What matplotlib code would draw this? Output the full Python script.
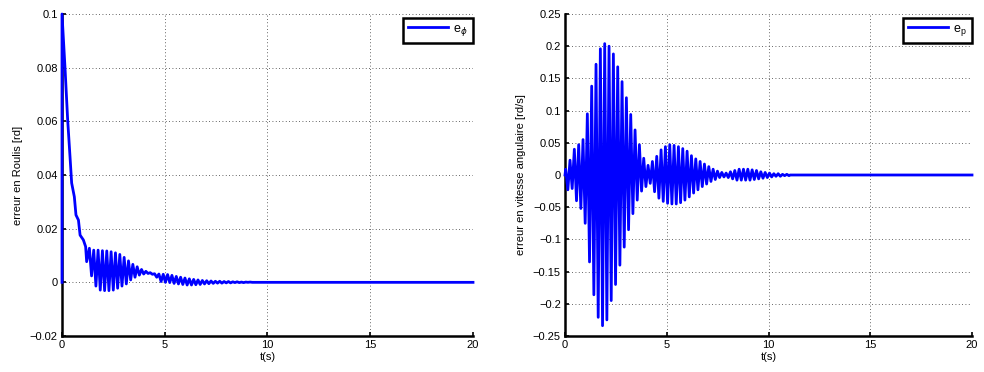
import matplotlib
matplotlib.use("Agg")
import matplotlib.pyplot as plt
from matplotlib.ticker import FuncFormatter

plt.rcParams['font.family'] = ['Liberation Sans', 'DejaVu Sans']
plt.rcParams['font.size'] = 8

# --- roll error: initial decay (t, value)
roll_decay_t = [0.0, 0.0, 0.146, 0.276, 0.39, 0.47, 0.60, 0.68, 0.80, 0.88, 1.04, 1.15, 1.20]
roll_decay_v = [0.0, 0.100, 0.080, 0.0605, 0.0468, 0.037, 0.0319, 0.0251, 0.0232, 0.0176, 0.0158, 0.0133, 0.0077]

# --- roll error: successive maxima / minima of the oscillation
roll_osc_t0 = 1.333
roll_period = 0.2114
roll_highs = [0.0127, 0.0120, 0.0120, 0.0118, 0.0117, 0.0114, 0.0110, 0.0104, 0.0093, 0.0080,
              0.0067, 0.0058, 0.0048, 0.0041, 0.0036, 0.0032, 0.0031, 0.0030, 0.0029, 0.0026,
              0.0022, 0.0019, 0.0016, 0.0013, 0.0011, 0.0009, 0.0007, 0.0006, 0.0005, 0.0004,
              0.0004, 0.0003, 0.0003, 0.0002, 0.0002, 0.0001, 0.0001, 0.0001]
roll_lows = [0.0024, -0.0014, -0.0029, -0.0031, -0.0031, -0.0029, -0.0022, -0.0014, -0.0006, 0.0009,
             0.0019, 0.0027, 0.0031, 0.0033, 0.0030, 0.0019, 0.0003, 0.0000, -0.0001, -0.0004,
             -0.0006, -0.0008, -0.0010, -0.0010, -0.0009, -0.0008, -0.0006, -0.0005, -0.0004, -0.0003,
             -0.0003, -0.0002, -0.0002, -0.0001, -0.0001, -0.0001, 0.0, 0.0]

# --- angular rate error: successive maxima / minima
rate_osc_t0 = 0.033
rate_period = 0.2131
rate_highs = [0.009, 0.023, 0.040, 0.047, 0.055, 0.095, 0.138, 0.172, 0.196, 0.204,
              0.200, 0.188, 0.168, 0.145, 0.120, 0.094, 0.070, 0.047, 0.026, 0.015,
              0.021, 0.029, 0.039, 0.044, 0.047, 0.046, 0.044, 0.041, 0.037, 0.030,
              0.025, 0.021, 0.017, 0.013, 0.009, 0.006, 0.004, 0.003, 0.005, 0.007,
              0.009, 0.009, 0.009, 0.008, 0.007, 0.005, 0.004, 0.003, 0.002, 0.002,
              0.001, 0.001]
rate_lows = [-0.023, -0.021, -0.040, -0.052, -0.075, -0.135, -0.186, -0.221, -0.234, -0.225,
             -0.195, -0.170, -0.140, -0.112, -0.085, -0.060, -0.039, -0.025, -0.018, -0.013,
             -0.026, -0.036, -0.041, -0.044, -0.045, -0.045, -0.043, -0.039, -0.034, -0.028,
             -0.023, -0.018, -0.014, -0.010, -0.007, -0.004, -0.003, -0.004, -0.006, -0.008,
             -0.008, -0.008, -0.008, -0.007, -0.006, -0.005, -0.004, -0.003, -0.002, -0.002,
             -0.001, -0.001]

t_end = 20.0


def zigzag(t0, period, highs, lows):
    """Interleave maxima and minima half a period apart, then settle at zero."""
    t, v = [], []
    for k, (hi, lo) in enumerate(zip(highs, lows)):
        t += [t0 + k * period, t0 + (k + 0.5) * period]
        v += [hi, lo]
    t.append(t[-1] + 0.25 * period)
    v.append(0.0)
    return t, v


rt, rv = zigzag(roll_osc_t0, roll_period, roll_highs, roll_lows)
roll_t = roll_decay_t + rt + [t_end]
roll_v = roll_decay_v + rv + [0.0]

pt, pv = zigzag(rate_osc_t0, rate_period, rate_highs, rate_lows)
rate_t = [0.0] + pt + [t_end]
rate_v = [0.0] + pv + [0.0]

fig = plt.figure(figsize=(9.84, 3.72), dpi=100)
ax1 = fig.add_axes([62 / 984, 36 / 372, 411 / 984, 322 / 372])
ax2 = fig.add_axes([565 / 984, 36 / 372, 407 / 984, 322 / 372])

fmt = FuncFormatter(lambda x, pos: ('%g' % round(x, 6)).replace('-', '\u2212'))


def style(ax, ylim, yticks, ylabel, label, t, v):
    ax.plot(t, v, color='#0000ff', lw=2, label=label, zorder=3, clip_on=False)
    ax.set_xlim(0, 20)
    ax.set_ylim(*ylim)
    ax.set_xticks([0, 5, 10, 15, 20])
    ax.set_yticks(yticks)
    ax.yaxis.set_major_formatter(fmt)
    ax.xaxis.set_major_formatter(fmt)
    ax.grid(True, color='#333333', linestyle=(0, (1, 3)), lw=0.6)
    for side in ['top', 'right']:
        ax.spines[side].set_visible(False)
    for side in ['left', 'bottom']:
        ax.spines[side].set_linewidth(1.8)
    ax.tick_params(direction='in', length=3, width=1.2, labelsize=8, pad=3)
    ax.set_xlabel('t(s)', labelpad=1)
    ax.set_ylabel(ylabel, labelpad=5)
    leg = ax.legend(loc='upper right', bbox_to_anchor=(1.0, 0.988), borderaxespad=0,
                    fancybox=False, framealpha=1, edgecolor='black',
                    handlelength=3.2, handletextpad=0.4, borderpad=0.4, fontsize=9)
    leg.get_frame().set_linewidth(1.8)
    leg.set_zorder(5)


style(ax1, (-0.02, 0.1), [-0.02, 0, 0.02, 0.04, 0.06, 0.08, 0.1],
      'erreur en Roulis [rd]', r'e$_\phi$', roll_t, roll_v)
style(ax2, (-0.25, 0.25), [-0.25, -0.2, -0.15, -0.1, -0.05, 0, 0.05, 0.1, 0.15, 0.2, 0.25],
      'erreur en vitesse angulaire [rd/s]', r'e$_\mathregular{p}$', rate_t, rate_v)

fig.savefig('out.png', dpi=100)
